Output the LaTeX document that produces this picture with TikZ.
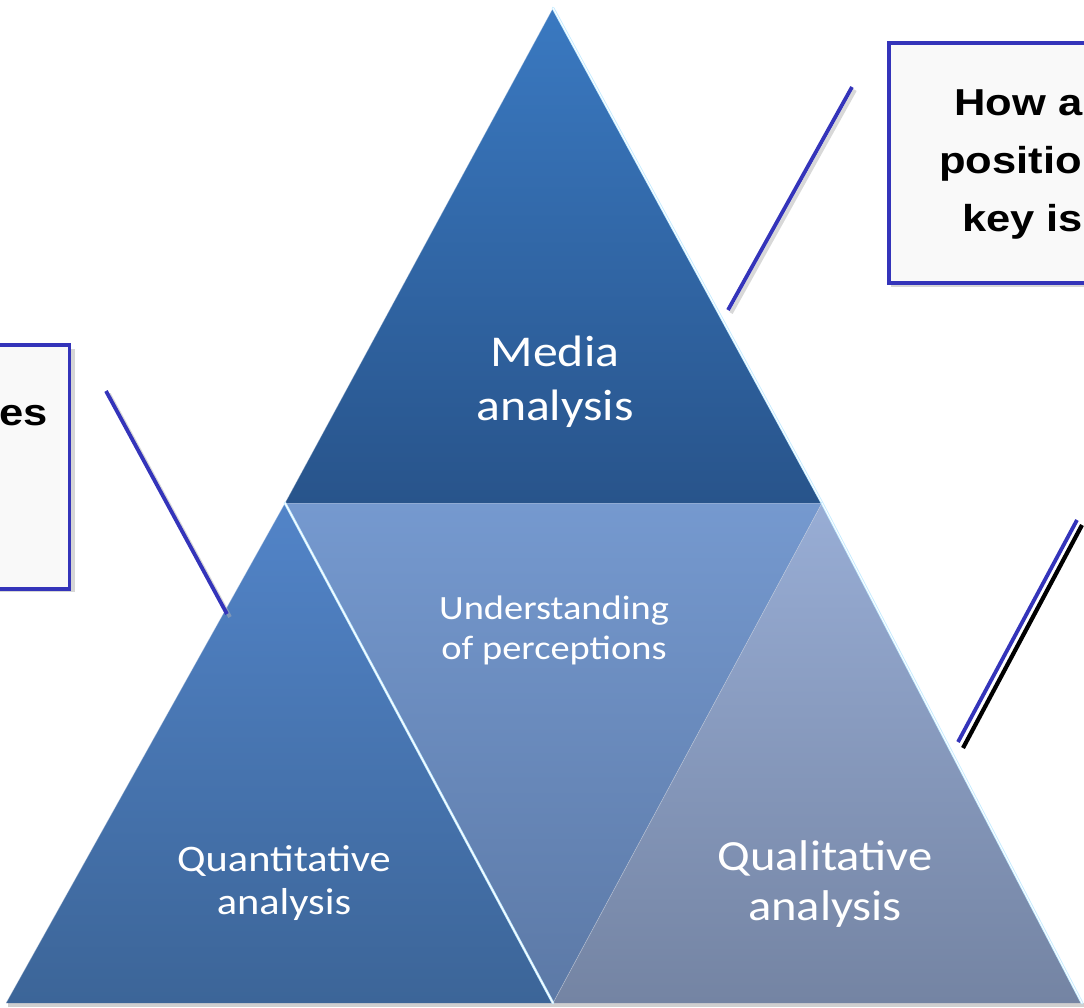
\documentclass[tikz,border=0pt]{standalone}
\usepackage{fontspec}
\usetikzlibrary{calc}
\newfontfamily\trifont[FakeStretch=1.13]{Carlito}
\newfontfamily\boxfont[FakeStretch=1.16]{Liberation Sans}
\definecolor{topT}{HTML}{3A79C1}
\definecolor{topB}{HTML}{28548B}
\definecolor{leftT}{HTML}{5284C8}
\definecolor{leftB}{HTML}{3C6598}
\definecolor{midT}{HTML}{7599CF}
\definecolor{midB}{HTML}{5C79A6}
\definecolor{rightT}{HTML}{98ADD5}
\definecolor{rightB}{HTML}{7484A3}
\definecolor{callout}{HTML}{3434BA}
\definecolor{hilite}{HTML}{C4ECFF}
\definecolor{boxfill}{HTML}{F9F9F9}
\begin{document}
\begin{tikzpicture}[x=1pt,y=-1pt,
  trilabel/.style={text=white,align=center,inner sep=0pt},
  boxtext/.style={font=\boxfont\bfseries\fontsize{37.5}{45}\selectfont,inner sep=0pt},
  calloutbox/.style={draw=callout,line width=3.5pt,fill=boxfill},
  boxshadow/.style={fill=black!35,opacity=0.45},
  leader/.style={draw=callout,line width=3.8pt},
  leadershadow/.style={draw=black!30,line width=3.8pt,opacity=0.5},
  edgehl/.style={draw=hilite,line width=2.6pt,line cap=round},
  edgecore/.style={draw=white,line width=0.9pt,line cap=round}]
\useasboundingbox (0,0) rectangle (1084,1007);
\fill[white] (0,0) rectangle (1084,1007);
% vertices
\coordinate (apex) at (553,8);
\coordinate (ml) at (285,503);
\coordinate (mr) at (822,503);
\coordinate (bl) at (6,1003);
\coordinate (bm) at (553,1003);
\coordinate (br) at (1082,1003);
% base shadow
\fill[black!30,opacity=0.6] (8,1003) rectangle (1084,1007);
% middle triangle
\shade[top color=midT,bottom color=midB] (ml) -- (mr) -- (bm) -- cycle;
% left triangle
\shade[top color=leftT,bottom color=leftB] (ml) -- (bl) -- (bm) -- cycle;
% right triangle
\shade[top color=rightT,bottom color=rightB] (mr) -- (bm) -- (br) -- cycle;
\draw[white!70!rightB,line width=0.6pt,opacity=0.5] (mr) -- (bm);
% top triangle
\shade[top color=topT,bottom color=topB] (apex) -- (ml) -- (mr) -- cycle;
\draw[white,opacity=0.25,line width=0.8pt] (ml) -- (mr);
% bevel highlights
\draw[edgehl] (apex) -- (mr);
\draw[edgecore] (apex) -- (mr);
\draw[edgehl] (ml) -- (bm);
\draw[edgecore] (ml) -- (bm);
\draw[edgehl] (mr) -- (br);
\draw[edgecore] (mr) -- (br);
\draw[white,opacity=0.35,line width=0.8pt] (apex) -- (ml) -- (bl);
% labels
\node[trilabel,font=\trifont\fontsize{44}{54}\selectfont] (media) at (555,382) {Media\\analysis};
\node[trilabel,font=\trifont\fontsize{34}{40}\selectfont] (underst) at (554,630) {Understanding\\of perceptions};
\node[trilabel,font=\trifont\fontsize{37.5}{43}\selectfont] (quant) at (284,883) {Quantitative\\analysis};
\node[trilabel,font=\trifont\fontsize{43}{50}\selectfont] (qual) at (825,884) {Qualitative\\analysis};
% callout boxes
\fill[boxshadow] (891,47) rectangle (1095,287);
\node[calloutbox,minimum width=210pt,minimum height=240pt,anchor=north west] (rbox) at (887,41) {};
\node[boxtext,anchor=base west] (rt1) at (954,115) {How a};
\node[boxtext,anchor=base west] (rt2) at (939,173) {positio};
\node[boxtext,anchor=base west] (rt3) at (962,231) {key is};
\fill[boxshadow] (-10,349) rectangle (75,592);
\node[calloutbox,minimum width=85pt,minimum height=244pt,anchor=north east] (lbox) at (71,343) {};
\node[boxtext,anchor=base east] (lt1) at (48,425) {es};
% leader lines
\coordinate (la) at (106,391);
\coordinate (lb) at (227,614);
\coordinate (ta) at (852,87);
\coordinate (tb) at (728,310);
\coordinate (ra) at (1077,520);
\coordinate (rb) at (958,742);
\coordinate (ka) at (1082,525);
\coordinate (kb) at (963,748);
\draw[leadershadow] ($(la)+(3,3)$) -- ($(lb)+(3,3)$);
\draw[leadershadow] ($(ta)+(3,3)$) -- ($(tb)+(3,3)$);
\draw[leader] (la) -- (lb);
\draw[leader] (ta) -- (tb);
\draw[draw=black,line width=4.2pt] (ka) -- (kb);
\draw[leader] (ra) -- (rb);
\end{tikzpicture}
\end{document}
